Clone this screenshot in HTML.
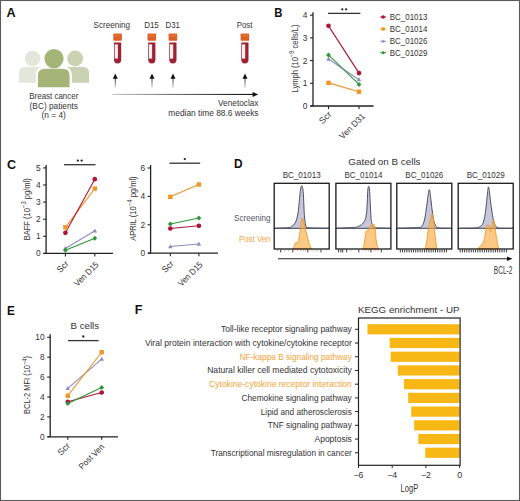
<!DOCTYPE html>
<html><head><meta charset="utf-8"><style>
html,body{margin:0;padding:0;background:#fff;}
svg{display:block;font-family:"Liberation Sans", sans-serif;}
</style></head><body>
<svg width="520" height="501" viewBox="0 0 520 501">
<rect x="0" y="0" width="520" height="501" fill="#fff"/>

<text x="6.4" y="16.8" font-size="12.6" text-anchor="start" fill="#111" font-weight="bold" >A</text>
<circle cx="32.6" cy="58.5" r="7.8" fill="#e3e6da"/>
<path d="M19,82.8 V73 Q19,67 25,67 H40 Q46,67 46,73 V82.8 Z" fill="#e3e6da"/>
<circle cx="75.2" cy="58.5" r="7.9" fill="#c9d2b3"/>
<path d="M62,82.8 V73 Q62,67 68,67 H83 Q89,67 89,73 V82.8 Z" fill="#c9d2b3"/>
<circle cx="54" cy="58.6" r="11.6" fill="#fff"/>
<path d="M35.8,89 V75.5 Q35.8,66.6 44.6,66.6 H63 Q71.8,66.6 71.8,75.5 V89 Z" fill="#fff"/>
<circle cx="54" cy="58.6" r="9.6" fill="#a5b577"/>
<path d="M37.9,87.2 V76 Q37.9,68.8 45,68.8 H62.5 Q69.6,68.8 69.6,76 V87.2 Z" fill="#a5b577"/>
<text x="53.8" y="98.8" font-size="8.2" text-anchor="middle" fill="#333333" font-weight="normal" textLength="49" lengthAdjust="spacingAndGlyphs" >Breast cancer</text>
<text x="53.8" y="108.6" font-size="8.2" text-anchor="middle" fill="#333333" font-weight="normal" textLength="48.4" lengthAdjust="spacingAndGlyphs" >(BC) patients</text>
<text x="53.7" y="118.4" font-size="8.2" text-anchor="middle" fill="#333333" font-weight="normal" textLength="24.3" lengthAdjust="spacingAndGlyphs" >(n = 4)</text>
<text x="93.5" y="28.3" font-size="8.2" text-anchor="start" fill="#333333" font-weight="normal" textLength="36.5" lengthAdjust="spacingAndGlyphs" >Screening</text>
<text x="144.2" y="28.3" font-size="8.2" text-anchor="start" fill="#333333" font-weight="normal" textLength="14.6" lengthAdjust="spacingAndGlyphs" >D15</text>
<text x="165.6" y="28.3" font-size="8.2" text-anchor="start" fill="#333333" font-weight="normal" textLength="14.4" lengthAdjust="spacingAndGlyphs" >D31</text>
<text x="236.7" y="28.3" font-size="8.2" text-anchor="start" fill="#333333" font-weight="normal" textLength="15.8" lengthAdjust="spacingAndGlyphs" >Post</text>
<rect x="113.3" y="33.5" width="8.6" height="7.3" rx="0.8" fill="#dd5f28"/>
<rect x="114.1" y="34.2" width="7" height="2.6" fill="#e97838" opacity="0.6"/>
<path d="M114.0,42.6 H121.19999999999999 V59.8 Q121.19999999999999,63.5 117.6,63.5 Q114.0,63.5 114.0,59.8 Z" fill="#9c2234"/>
<rect x="114.69999999999999" y="44.4" width="3.2" height="14.2" fill="#fbeef0"/>
<rect x="147.5" y="33.5" width="8.6" height="7.3" rx="0.8" fill="#dd5f28"/>
<rect x="148.3" y="34.2" width="7" height="2.6" fill="#e97838" opacity="0.6"/>
<path d="M148.20000000000002,42.6 H155.4 V59.8 Q155.4,63.5 151.8,63.5 Q148.20000000000002,63.5 148.20000000000002,59.8 Z" fill="#9c2234"/>
<rect x="148.9" y="44.4" width="3.2" height="14.2" fill="#fbeef0"/>
<rect x="168.6" y="33.5" width="8.6" height="7.3" rx="0.8" fill="#dd5f28"/>
<rect x="169.4" y="34.2" width="7" height="2.6" fill="#e97838" opacity="0.6"/>
<path d="M169.3,42.6 H176.5 V59.8 Q176.5,63.5 172.9,63.5 Q169.3,63.5 169.3,59.8 Z" fill="#9c2234"/>
<rect x="170.0" y="44.4" width="3.2" height="14.2" fill="#fbeef0"/>
<rect x="240.6" y="33.5" width="8.6" height="7.3" rx="0.8" fill="#dd5f28"/>
<rect x="241.4" y="34.2" width="7" height="2.6" fill="#e97838" opacity="0.6"/>
<path d="M241.3,42.6 H248.5 V59.8 Q248.5,63.5 244.9,63.5 Q241.3,63.5 241.3,59.8 Z" fill="#9c2234"/>
<rect x="242.0" y="44.4" width="3.2" height="14.2" fill="#fbeef0"/>
<defs><linearGradient id="gv" x1="0" x2="0" y1="0" y2="1"><stop offset="0" stop-color="#222"/><stop offset="1" stop-color="#bbb"/></linearGradient></defs>
<rect x="114.8" y="77.5" width="1" height="9.8" fill="url(#gv)"/>
<path d="M112.8,78.8 L115.3,73.4 L117.8,78.8 Z" fill="#111"/>
<rect x="151.5" y="77.5" width="1" height="9.8" fill="url(#gv)"/>
<path d="M149.5,78.8 L152,73.4 L154.5,78.8 Z" fill="#111"/>
<rect x="172.5" y="77.5" width="1" height="9.8" fill="url(#gv)"/>
<path d="M170.5,78.8 L173,73.4 L175.5,78.8 Z" fill="#111"/>
<rect x="244.5" y="77.5" width="1" height="9.8" fill="url(#gv)"/>
<path d="M242.5,78.8 L245,73.4 L247.5,78.8 Z" fill="#111"/>
<defs><linearGradient id="ga" x1="0" x2="1" y1="0" y2="0"><stop offset="0" stop-color="#c8c8c8"/><stop offset="0.5" stop-color="#666"/><stop offset="1" stop-color="#111"/></linearGradient></defs>
<rect x="112.2" y="93.9" width="142" height="1.1" fill="url(#ga)"/>
<path d="M252.6,91.9 L258.2,94.45 L252.6,97 Z" fill="#111"/>
<text x="258.5" y="106" font-size="8.3" text-anchor="end" fill="#333333" font-weight="normal" textLength="40.5" lengthAdjust="spacingAndGlyphs" >Venetoclax</text>
<text x="258.5" y="116" font-size="8.3" text-anchor="end" fill="#333333" font-weight="normal" textLength="90.2" lengthAdjust="spacingAndGlyphs" >median time 88.6 weeks</text>
<text x="274.3" y="16.8" font-size="12.6" text-anchor="start" fill="#111" font-weight="bold" textLength="8.2" lengthAdjust="spacingAndGlyphs" >B</text>
<line x1="313" y1="12.200000000000003" x2="313" y2="106" stroke="#222" stroke-width="1.3"/>
<line x1="310.5" y1="106" x2="373.6" y2="106" stroke="#222" stroke-width="1.3"/>
<line x1="310" y1="106.00" x2="313" y2="106.00" stroke="#222" stroke-width="1.1"/>
<text x="307.5" y="109.0" font-size="8.4" text-anchor="end" fill="#333333" font-weight="normal" >0</text>
<line x1="310" y1="83.30" x2="313" y2="83.30" stroke="#222" stroke-width="1.1"/>
<text x="307.5" y="86.3" font-size="8.4" text-anchor="end" fill="#333333" font-weight="normal" >1</text>
<line x1="310" y1="60.60" x2="313" y2="60.60" stroke="#222" stroke-width="1.1"/>
<text x="307.5" y="63.6" font-size="8.4" text-anchor="end" fill="#333333" font-weight="normal" >2</text>
<line x1="310" y1="37.90" x2="313" y2="37.90" stroke="#222" stroke-width="1.1"/>
<text x="307.5" y="40.900000000000006" font-size="8.4" text-anchor="end" fill="#333333" font-weight="normal" >3</text>
<line x1="310" y1="15.20" x2="313" y2="15.20" stroke="#222" stroke-width="1.1"/>
<text x="307.5" y="18.200000000000003" font-size="8.4" text-anchor="end" fill="#333333" font-weight="normal" >4</text>
<line x1="328.5" y1="106" x2="328.5" y2="109" stroke="#222" stroke-width="1.1"/>
<line x1="359" y1="106" x2="359" y2="109" stroke="#222" stroke-width="1.1"/>
<line x1="328.5" y1="82.85" x2="359" y2="91.70" stroke="#f09526" stroke-width="1.1"/>
<line x1="328.5" y1="59.01" x2="359" y2="79.67" stroke="#8d8bbf" stroke-width="1.1"/>
<line x1="328.5" y1="54.93" x2="359" y2="84.44" stroke="#2f973a" stroke-width="1.1"/>
<line x1="328.5" y1="25.87" x2="359" y2="73.09" stroke="#ad1539" stroke-width="1.1"/>
<rect x="326.30" y="80.65" width="4.40" height="4.40" fill="#f09526"/>
<rect x="356.80" y="89.50" width="4.40" height="4.40" fill="#f09526"/>
<path d="M328.50,56.61 L330.78,60.69 L326.22,60.69 Z" fill="#8d8bbf"/>
<path d="M359.00,77.27 L361.28,81.35 L356.72,81.35 Z" fill="#8d8bbf"/>
<path d="M328.50,52.43 L330.88,54.93 L328.50,57.43 L326.12,54.93 Z" fill="#2f973a"/>
<path d="M359.00,81.94 L361.38,84.44 L359.00,86.94 L356.62,84.44 Z" fill="#2f973a"/>
<circle cx="328.5" cy="25.869000000000014" r="2.35" fill="#ad1539"/>
<circle cx="359" cy="73.08500000000001" r="2.35" fill="#ad1539"/>
<line x1="328" y1="13.4" x2="360.4" y2="13.4" stroke="#333" stroke-width="1.3"/>
<circle cx="342.30" cy="9.30" r="1.15" fill="#222"/>
<circle cx="346.10" cy="9.30" r="1.15" fill="#222"/>
<g transform="translate(298,58.5) rotate(-90)">
<text x="0" y="0" font-size="9" text-anchor="middle" fill="#333333" textLength="68" lengthAdjust="spacingAndGlyphs">Lymph (10<tspan dy="-3.6" font-size="6.8">−9</tspan><tspan dy="3.6"> cells/L)</tspan></text>
</g>
<g transform="translate(332,115) rotate(-45)">
<text x="0" y="0" font-size="8.8" text-anchor="end" fill="#333333" font-weight="normal" textLength="13.5" lengthAdjust="spacingAndGlyphs" >Scr</text>
</g>
<g transform="translate(365.5,117) rotate(-45)">
<text x="0" y="0" font-size="8.8" text-anchor="end" fill="#333333" font-weight="normal" textLength="32" lengthAdjust="spacingAndGlyphs" >Ven D31</text>
</g>
<line x1="380.3" y1="17" x2="386" y2="17" stroke="#ad1539" stroke-width="1"/>
<circle cx="383.1" cy="17" r="1.76" fill="#ad1539"/>
<text x="389.8" y="20.2" font-size="8.8" text-anchor="start" fill="#333333" font-weight="normal" textLength="37.5" lengthAdjust="spacingAndGlyphs" >BC_01013</text>
<line x1="380.3" y1="29" x2="386" y2="29" stroke="#f09526" stroke-width="1"/>
<rect x="381.45" y="27.35" width="3.30" height="3.30" fill="#f09526"/>
<text x="389.8" y="32.2" font-size="8.8" text-anchor="start" fill="#333333" font-weight="normal" textLength="37.5" lengthAdjust="spacingAndGlyphs" >BC_01014</text>
<line x1="380.3" y1="41.2" x2="386" y2="41.2" stroke="#8d8bbf" stroke-width="1"/>
<path d="M383.10,39.40 L384.81,42.46 L381.39,42.46 Z" fill="#8d8bbf"/>
<text x="389.8" y="44.400000000000006" font-size="8.8" text-anchor="start" fill="#333333" font-weight="normal" textLength="37.5" lengthAdjust="spacingAndGlyphs" >BC_01026</text>
<line x1="380.3" y1="52.7" x2="386" y2="52.7" stroke="#2f973a" stroke-width="1"/>
<path d="M383.10,50.83 L384.88,52.70 L383.10,54.58 L381.32,52.70 Z" fill="#2f973a"/>
<text x="389.8" y="55.900000000000006" font-size="8.8" text-anchor="start" fill="#333333" font-weight="normal" textLength="37.5" lengthAdjust="spacingAndGlyphs" >BC_01029</text>
<text x="7.0" y="168.7" font-size="12.6" text-anchor="start" fill="#111" font-weight="bold" >C</text>
<line x1="46.1" y1="164.9" x2="46.1" y2="253.4" stroke="#222" stroke-width="1.3"/>
<line x1="43.5" y1="253.4" x2="113" y2="253.4" stroke="#222" stroke-width="1.3"/>
<line x1="43.1" y1="253.40" x2="46.1" y2="253.40" stroke="#222" stroke-width="1.1"/>
<text x="40.6" y="256.4" font-size="8.4" text-anchor="end" fill="#333333" font-weight="normal" >0</text>
<line x1="43.1" y1="236.30" x2="46.1" y2="236.30" stroke="#222" stroke-width="1.1"/>
<text x="40.6" y="239.3" font-size="8.4" text-anchor="end" fill="#333333" font-weight="normal" >1</text>
<line x1="43.1" y1="219.20" x2="46.1" y2="219.20" stroke="#222" stroke-width="1.1"/>
<text x="40.6" y="222.2" font-size="8.4" text-anchor="end" fill="#333333" font-weight="normal" >2</text>
<line x1="43.1" y1="202.10" x2="46.1" y2="202.10" stroke="#222" stroke-width="1.1"/>
<text x="40.6" y="205.1" font-size="8.4" text-anchor="end" fill="#333333" font-weight="normal" >3</text>
<line x1="43.1" y1="185.00" x2="46.1" y2="185.00" stroke="#222" stroke-width="1.1"/>
<text x="40.6" y="188.0" font-size="8.4" text-anchor="end" fill="#333333" font-weight="normal" >4</text>
<line x1="43.1" y1="167.90" x2="46.1" y2="167.90" stroke="#222" stroke-width="1.1"/>
<text x="40.6" y="170.9" font-size="8.4" text-anchor="end" fill="#333333" font-weight="normal" >5</text>
<line x1="65.4" y1="253.4" x2="65.4" y2="256.4" stroke="#222" stroke-width="1.1"/>
<line x1="94.8" y1="253.4" x2="94.8" y2="256.4" stroke="#222" stroke-width="1.1"/>
<line x1="65.4" y1="227.31" x2="94.8" y2="188.61" stroke="#f09526" stroke-width="1.1"/>
<line x1="65.4" y1="232.79" x2="94.8" y2="179.20" stroke="#ad1539" stroke-width="1.1"/>
<line x1="65.4" y1="248.41" x2="94.8" y2="230.79" stroke="#8d8bbf" stroke-width="1.1"/>
<line x1="65.4" y1="250.30" x2="94.8" y2="238.30" stroke="#2f973a" stroke-width="1.1"/>
<rect x="63.20" y="225.11" width="4.40" height="4.40" fill="#f09526"/>
<rect x="92.60" y="186.41" width="4.40" height="4.40" fill="#f09526"/>
<circle cx="65.4" cy="232.7945" r="2.35" fill="#ad1539"/>
<circle cx="94.8" cy="179.2031" r="2.35" fill="#ad1539"/>
<path d="M65.40,246.01 L67.68,250.09 L63.12,250.09 Z" fill="#8d8bbf"/>
<path d="M94.80,228.39 L97.08,232.47 L92.52,232.47 Z" fill="#8d8bbf"/>
<path d="M65.40,247.80 L67.78,250.30 L65.40,252.80 L63.03,250.30 Z" fill="#2f973a"/>
<path d="M94.80,235.80 L97.17,238.30 L94.80,240.80 L92.42,238.30 Z" fill="#2f973a"/>
<line x1="64" y1="164.7" x2="95.5" y2="164.7" stroke="#333" stroke-width="1.3"/>
<circle cx="77.85" cy="160.60" r="1.15" fill="#222"/>
<circle cx="81.65" cy="160.60" r="1.15" fill="#222"/>
<g transform="translate(30,209.3) rotate(-90)">
<text x="0" y="0" font-size="8.6" text-anchor="middle" fill="#333333" textLength="62" lengthAdjust="spacingAndGlyphs">BAFF (10<tspan dy="-3.6" font-size="6.8">−3</tspan><tspan dy="3.6"> pg/ml)</tspan></text>
</g>
<g transform="translate(69.3,264.2) rotate(-45)">
<text x="0" y="0" font-size="8.8" text-anchor="end" fill="#333333" font-weight="normal" textLength="12.8" lengthAdjust="spacingAndGlyphs" >Scr</text>
</g>
<g transform="translate(99.3,265.2) rotate(-45)">
<text x="0" y="0" font-size="8.8" text-anchor="end" fill="#333333" font-weight="normal" textLength="31" lengthAdjust="spacingAndGlyphs" >Ven D15</text>
</g>
<line x1="150.6" y1="165.0" x2="150.6" y2="253.2" stroke="#222" stroke-width="1.3"/>
<line x1="148" y1="253.2" x2="218" y2="253.2" stroke="#222" stroke-width="1.3"/>
<line x1="147.6" y1="253.20" x2="150.6" y2="253.20" stroke="#222" stroke-width="1.1"/>
<text x="145.1" y="256.2" font-size="8.4" text-anchor="end" fill="#333333" font-weight="normal" >0</text>
<line x1="147.6" y1="224.80" x2="150.6" y2="224.80" stroke="#222" stroke-width="1.1"/>
<text x="145.1" y="227.79999999999998" font-size="8.4" text-anchor="end" fill="#333333" font-weight="normal" >2</text>
<line x1="147.6" y1="196.40" x2="150.6" y2="196.40" stroke="#222" stroke-width="1.1"/>
<text x="145.1" y="199.39999999999998" font-size="8.4" text-anchor="end" fill="#333333" font-weight="normal" >4</text>
<line x1="147.6" y1="168.00" x2="150.6" y2="168.00" stroke="#222" stroke-width="1.1"/>
<text x="145.1" y="171.0" font-size="8.4" text-anchor="end" fill="#333333" font-weight="normal" >6</text>
<line x1="170.3" y1="253.2" x2="170.3" y2="256.2" stroke="#222" stroke-width="1.1"/>
<line x1="198.9" y1="253.2" x2="198.9" y2="256.2" stroke="#222" stroke-width="1.1"/>
<line x1="170.3" y1="196.83" x2="198.9" y2="184.47" stroke="#f09526" stroke-width="1.1"/>
<line x1="170.3" y1="223.95" x2="198.9" y2="217.98" stroke="#2f973a" stroke-width="1.1"/>
<line x1="170.3" y1="228.49" x2="198.9" y2="225.79" stroke="#ad1539" stroke-width="1.1"/>
<line x1="170.3" y1="246.53" x2="198.9" y2="243.97" stroke="#8d8bbf" stroke-width="1.1"/>
<rect x="168.10" y="194.63" width="4.40" height="4.40" fill="#f09526"/>
<rect x="196.70" y="182.27" width="4.40" height="4.40" fill="#f09526"/>
<path d="M170.30,221.45 L172.68,223.95 L170.30,226.45 L167.93,223.95 Z" fill="#2f973a"/>
<path d="M198.90,215.48 L201.28,217.98 L198.90,220.48 L196.53,217.98 Z" fill="#2f973a"/>
<circle cx="170.3" cy="228.492" r="2.35" fill="#ad1539"/>
<circle cx="198.9" cy="225.79399999999998" r="2.35" fill="#ad1539"/>
<path d="M170.30,244.13 L172.58,248.21 L168.02,248.21 Z" fill="#8d8bbf"/>
<path d="M198.90,241.57 L201.18,245.65 L196.62,245.65 Z" fill="#8d8bbf"/>
<line x1="169.4" y1="163.2" x2="200.2" y2="163.2" stroke="#333" stroke-width="1.3"/>
<circle cx="184.80" cy="159.10" r="1.15" fill="#222"/>
<g transform="translate(135.7,208.6) rotate(-90)">
<text x="0" y="0" font-size="8.6" text-anchor="middle" fill="#333333" textLength="64.5" lengthAdjust="spacingAndGlyphs">APRIL (10<tspan dy="-3.6" font-size="6.8">−4</tspan><tspan dy="3.6"> pg/ml)</tspan></text>
</g>
<g transform="translate(174.3,264.2) rotate(-45)">
<text x="0" y="0" font-size="8.8" text-anchor="end" fill="#333333" font-weight="normal" textLength="12.8" lengthAdjust="spacingAndGlyphs" >Scr</text>
</g>
<g transform="translate(203.3,265.2) rotate(-45)">
<text x="0" y="0" font-size="8.8" text-anchor="end" fill="#333333" font-weight="normal" textLength="31" lengthAdjust="spacingAndGlyphs" >Ven D15</text>
</g>
<text x="234.0" y="167.6" font-size="12.6" text-anchor="start" fill="#111" font-weight="bold" textLength="8.6" lengthAdjust="spacingAndGlyphs" >D</text>
<text x="348.3" y="165" font-size="9.3" text-anchor="start" fill="#333333" font-weight="normal" textLength="72.2" lengthAdjust="spacingAndGlyphs" >Gated on B cells</text>
<text x="301.7" y="177.5" font-size="8.3" text-anchor="middle" fill="#333333" font-weight="normal" textLength="38" lengthAdjust="spacingAndGlyphs" >BC_01013</text>
<text x="363.4" y="177.5" font-size="8.3" text-anchor="middle" fill="#333333" font-weight="normal" textLength="38" lengthAdjust="spacingAndGlyphs" >BC_01014</text>
<text x="424.3" y="177.5" font-size="8.3" text-anchor="middle" fill="#333333" font-weight="normal" textLength="38" lengthAdjust="spacingAndGlyphs" >BC_01026</text>
<text x="485.7" y="177.5" font-size="8.3" text-anchor="middle" fill="#333333" font-weight="normal" textLength="38" lengthAdjust="spacingAndGlyphs" >BC_01029</text>
<text x="270.5" y="220.5" font-size="8.6" text-anchor="end" fill="#50545f" font-weight="normal" textLength="36.5" lengthAdjust="spacingAndGlyphs" >Screening</text>
<text x="270.5" y="241.8" font-size="8.6" text-anchor="end" fill="#f4a545" font-weight="normal" textLength="31.5" lengthAdjust="spacingAndGlyphs" >Post Ven</text>
<defs><clipPath id="cb"><rect x="0" y="228.9" width="520" height="30"/></clipPath><clipPath id="ct"><rect x="0" y="150" width="520" height="78.9"/></clipPath></defs>
<line x1="274.2" y1="228.3" x2="329.2" y2="228.3" stroke="#666b78" stroke-width="0.95"/>
<path d="M274.20,228.30 C276.47,228.20 284.88,227.98 287.80,227.70 C290.72,227.42 290.50,227.35 291.70,226.60 C292.90,225.85 294.13,224.57 295.00,223.20 C295.87,221.83 296.33,220.47 296.90,218.40 C297.47,216.33 298.00,213.67 298.40,210.80 C298.80,207.93 298.98,204.40 299.30,201.20 C299.62,198.00 300.02,193.93 300.30,191.60 C300.58,189.27 300.77,188.20 301.00,187.20 C301.23,186.20 301.47,185.60 301.70,185.60 C301.93,185.60 302.15,186.20 302.40,187.20 C302.65,188.20 302.98,189.27 303.20,191.60 C303.42,193.93 303.55,198.00 303.70,201.20 C303.85,204.40 303.90,207.60 304.10,210.80 C304.30,214.00 304.58,217.85 304.90,220.40 C305.22,222.95 305.48,224.87 306.00,226.10 C306.52,227.33 304.13,227.43 308.00,227.80 C311.87,228.17 325.67,228.22 329.20,228.30 Z" fill="#c6c7db" stroke="#4a5164" stroke-width="1" stroke-linejoin="round"/>
<path d="M292.80,249.00 C293.07,248.42 293.93,246.55 294.40,245.50 C294.87,244.45 295.00,243.23 295.60,242.70 C296.20,242.17 297.47,242.90 298.00,242.30 C298.53,241.70 298.47,240.95 298.80,239.10 C299.13,237.25 299.60,233.85 300.00,231.20 C300.40,228.55 300.80,225.40 301.20,223.20 C301.60,221.00 302.00,218.40 302.40,218.00 C302.80,217.60 303.13,219.13 303.60,220.80 C304.07,222.47 304.60,225.47 305.20,228.00 C305.80,230.53 306.55,233.48 307.20,236.00 C307.85,238.52 308.45,241.12 309.10,243.10 C309.75,245.08 310.70,246.92 311.10,247.90 C311.50,248.88 311.43,248.82 311.50,249.00 Z" fill="#fbc886" clip-path="url(#cb)"/>
<path d="M292.80,249.00 C293.07,248.42 293.93,246.55 294.40,245.50 C294.87,244.45 295.00,243.23 295.60,242.70 C296.20,242.17 297.47,242.90 298.00,242.30 C298.53,241.70 298.47,240.95 298.80,239.10 C299.13,237.25 299.60,233.85 300.00,231.20 C300.40,228.55 300.80,225.40 301.20,223.20 C301.60,221.00 302.00,218.40 302.40,218.00 C302.80,217.60 303.13,219.13 303.60,220.80 C304.07,222.47 304.60,225.47 305.20,228.00 C305.80,230.53 306.55,233.48 307.20,236.00 C307.85,238.52 308.45,241.12 309.10,243.10 C309.75,245.08 310.70,246.92 311.10,247.90 C311.50,248.88 311.43,248.82 311.50,249.00 Z" fill="#f6a640" fill-opacity="0.6" clip-path="url(#ct)"/>
<path d="M292.80,249.00 C293.07,248.42 293.93,246.55 294.40,245.50 C294.87,244.45 295.00,243.23 295.60,242.70 C296.20,242.17 297.47,242.90 298.00,242.30 C298.53,241.70 298.47,240.95 298.80,239.10 C299.13,237.25 299.60,233.85 300.00,231.20 C300.40,228.55 300.80,225.40 301.20,223.20 C301.60,221.00 302.00,218.40 302.40,218.00 C302.80,217.60 303.13,219.13 303.60,220.80 C304.07,222.47 304.60,225.47 305.20,228.00 C305.80,230.53 306.55,233.48 307.20,236.00 C307.85,238.52 308.45,241.12 309.10,243.10 C309.75,245.08 310.70,246.92 311.10,247.90 C311.50,248.88 311.43,248.82 311.50,249.00 Z" fill="none" stroke="#f19b25" stroke-width="0.9" stroke-linejoin="round"/>
<rect x="274.2" y="183.3" width="55" height="65.7" fill="none" stroke="#1a1a1a" stroke-width="1.3"/>
<line x1="280.7" y1="249.6" x2="280.7" y2="252.4" stroke="#222" stroke-width="0.9"/>
<line x1="292.8" y1="249.6" x2="292.8" y2="252.4" stroke="#222" stroke-width="0.9"/>
<line x1="307.8" y1="249.6" x2="307.8" y2="252.4" stroke="#222" stroke-width="0.9"/>
<line x1="321.0" y1="249.6" x2="321.0" y2="252.4" stroke="#222" stroke-width="0.9"/>
<line x1="277.7" y1="249.6" x2="277.7" y2="251.4" stroke="#888" stroke-width="0.6"/>
<line x1="284.7" y1="249.6" x2="284.7" y2="251.4" stroke="#888" stroke-width="0.6"/>
<line x1="288.7" y1="249.6" x2="288.7" y2="251.4" stroke="#888" stroke-width="0.6"/>
<line x1="297.7" y1="249.6" x2="297.7" y2="251.4" stroke="#888" stroke-width="0.6"/>
<line x1="301.2" y1="249.6" x2="301.2" y2="251.4" stroke="#888" stroke-width="0.6"/>
<line x1="303.7" y1="249.6" x2="303.7" y2="251.4" stroke="#888" stroke-width="0.6"/>
<line x1="305.7" y1="249.6" x2="305.7" y2="251.4" stroke="#888" stroke-width="0.6"/>
<line x1="312.2" y1="249.6" x2="312.2" y2="251.4" stroke="#888" stroke-width="0.6"/>
<line x1="315.2" y1="249.6" x2="315.2" y2="251.4" stroke="#888" stroke-width="0.6"/>
<line x1="317.7" y1="249.6" x2="317.7" y2="251.4" stroke="#888" stroke-width="0.6"/>
<line x1="335.9" y1="228.3" x2="390.9" y2="228.3" stroke="#666b78" stroke-width="0.95"/>
<path d="M335.90,228.30 C338.73,228.17 349.27,227.78 352.90,227.50 C356.53,227.22 356.27,227.07 357.70,226.60 C359.13,226.13 360.38,225.58 361.50,224.70 C362.62,223.82 363.68,222.50 364.40,221.30 C365.12,220.10 365.40,219.25 365.80,217.50 C366.20,215.75 366.55,213.52 366.80,210.80 C367.05,208.08 367.15,204.40 367.30,201.20 C367.45,198.00 367.57,193.87 367.70,191.60 C367.83,189.33 367.93,188.48 368.10,187.60 C368.27,186.72 368.50,186.30 368.70,186.30 C368.90,186.30 369.13,186.72 369.30,187.60 C369.47,188.48 369.57,189.33 369.70,191.60 C369.83,193.87 369.95,198.00 370.10,201.20 C370.25,204.40 370.40,207.60 370.60,210.80 C370.80,214.00 371.03,218.17 371.30,220.40 C371.57,222.63 371.83,223.08 372.20,224.20 C372.57,225.32 373.05,226.50 373.50,227.10 C373.95,227.70 372.00,227.60 374.90,227.80 C377.80,228.00 388.23,228.22 390.90,228.30 Z" fill="#c6c7db" stroke="#4a5164" stroke-width="1" stroke-linejoin="round"/>
<path d="M362.60,249.00 C362.80,248.42 363.40,247.28 363.80,245.50 C364.20,243.72 364.67,240.43 365.00,238.30 C365.33,236.17 365.53,233.95 365.80,232.70 C366.07,231.45 366.07,231.18 366.60,230.80 C367.13,230.42 368.47,230.93 369.00,230.40 C369.53,229.87 369.47,228.47 369.80,227.60 C370.13,226.73 370.60,225.80 371.00,225.20 C371.40,224.60 371.80,224.00 372.20,224.00 C372.60,224.00 373.07,225.13 373.40,225.20 C373.73,225.27 373.93,223.93 374.20,224.40 C374.47,224.87 374.77,226.62 375.00,228.00 C375.23,229.38 375.42,230.72 375.60,232.70 C375.78,234.68 375.82,237.77 376.10,239.90 C376.38,242.03 376.90,243.98 377.30,245.50 C377.70,247.02 378.30,248.42 378.50,249.00 Z" fill="#fbc886" clip-path="url(#cb)"/>
<path d="M362.60,249.00 C362.80,248.42 363.40,247.28 363.80,245.50 C364.20,243.72 364.67,240.43 365.00,238.30 C365.33,236.17 365.53,233.95 365.80,232.70 C366.07,231.45 366.07,231.18 366.60,230.80 C367.13,230.42 368.47,230.93 369.00,230.40 C369.53,229.87 369.47,228.47 369.80,227.60 C370.13,226.73 370.60,225.80 371.00,225.20 C371.40,224.60 371.80,224.00 372.20,224.00 C372.60,224.00 373.07,225.13 373.40,225.20 C373.73,225.27 373.93,223.93 374.20,224.40 C374.47,224.87 374.77,226.62 375.00,228.00 C375.23,229.38 375.42,230.72 375.60,232.70 C375.78,234.68 375.82,237.77 376.10,239.90 C376.38,242.03 376.90,243.98 377.30,245.50 C377.70,247.02 378.30,248.42 378.50,249.00 Z" fill="#f6a640" fill-opacity="0.6" clip-path="url(#ct)"/>
<path d="M362.60,249.00 C362.80,248.42 363.40,247.28 363.80,245.50 C364.20,243.72 364.67,240.43 365.00,238.30 C365.33,236.17 365.53,233.95 365.80,232.70 C366.07,231.45 366.07,231.18 366.60,230.80 C367.13,230.42 368.47,230.93 369.00,230.40 C369.53,229.87 369.47,228.47 369.80,227.60 C370.13,226.73 370.60,225.80 371.00,225.20 C371.40,224.60 371.80,224.00 372.20,224.00 C372.60,224.00 373.07,225.13 373.40,225.20 C373.73,225.27 373.93,223.93 374.20,224.40 C374.47,224.87 374.77,226.62 375.00,228.00 C375.23,229.38 375.42,230.72 375.60,232.70 C375.78,234.68 375.82,237.77 376.10,239.90 C376.38,242.03 376.90,243.98 377.30,245.50 C377.70,247.02 378.30,248.42 378.50,249.00 Z" fill="none" stroke="#f19b25" stroke-width="0.9" stroke-linejoin="round"/>
<rect x="335.9" y="183.3" width="55" height="65.7" fill="none" stroke="#1a1a1a" stroke-width="1.3"/>
<line x1="338.59999999999997" y1="249.6" x2="338.59999999999997" y2="252.4" stroke="#222" stroke-width="0.9"/>
<line x1="340.9" y1="249.6" x2="340.9" y2="252.4" stroke="#222" stroke-width="0.9"/>
<line x1="342.7" y1="249.6" x2="342.7" y2="252.4" stroke="#222" stroke-width="0.9"/>
<line x1="346.7" y1="249.6" x2="346.7" y2="252.4" stroke="#222" stroke-width="0.9"/>
<line x1="358.79999999999995" y1="249.6" x2="358.79999999999995" y2="252.4" stroke="#222" stroke-width="0.9"/>
<line x1="370.9" y1="249.6" x2="370.9" y2="252.4" stroke="#222" stroke-width="0.9"/>
<line x1="381.29999999999995" y1="249.6" x2="381.29999999999995" y2="252.4" stroke="#222" stroke-width="0.9"/>
<line x1="350.9" y1="249.6" x2="350.9" y2="251.4" stroke="#888" stroke-width="0.6"/>
<line x1="362.9" y1="249.6" x2="362.9" y2="251.4" stroke="#888" stroke-width="0.6"/>
<line x1="365.9" y1="249.6" x2="365.9" y2="251.4" stroke="#888" stroke-width="0.6"/>
<line x1="368.4" y1="249.6" x2="368.4" y2="251.4" stroke="#888" stroke-width="0.6"/>
<line x1="374.9" y1="249.6" x2="374.9" y2="251.4" stroke="#888" stroke-width="0.6"/>
<line x1="377.9" y1="249.6" x2="377.9" y2="251.4" stroke="#888" stroke-width="0.6"/>
<line x1="396.8" y1="228.3" x2="451.8" y2="228.3" stroke="#666b78" stroke-width="0.95"/>
<path d="M396.80,228.30 C400.40,228.17 414.22,227.87 418.40,227.50 C422.58,227.13 421.02,226.92 421.90,226.10 C422.78,225.28 423.17,224.12 423.70,222.60 C424.23,221.08 424.70,219.10 425.10,217.00 C425.50,214.90 425.77,212.33 426.10,210.00 C426.43,207.67 426.75,205.57 427.10,203.00 C427.45,200.43 427.92,196.60 428.20,194.60 C428.48,192.60 428.62,191.82 428.80,191.00 C428.98,190.18 429.13,189.70 429.30,189.70 C429.47,189.70 429.63,190.18 429.80,191.00 C429.97,191.82 430.05,192.60 430.30,194.60 C430.55,196.60 431.00,200.43 431.30,203.00 C431.60,205.57 431.80,207.67 432.10,210.00 C432.40,212.33 432.70,214.78 433.10,217.00 C433.50,219.22 433.92,221.67 434.50,223.30 C435.08,224.93 435.78,226.02 436.60,226.80 C437.42,227.58 436.87,227.75 439.40,228.00 C441.93,228.25 449.73,228.25 451.80,228.30 Z" fill="#c6c7db" stroke="#4a5164" stroke-width="1" stroke-linejoin="round"/>
<path d="M425.20,249.00 C425.47,247.63 426.30,244.03 426.80,240.80 C427.30,237.57 427.73,232.63 428.20,229.60 C428.67,226.57 429.13,224.70 429.60,222.60 C430.07,220.50 430.58,218.52 431.00,217.00 C431.42,215.48 431.75,213.50 432.10,213.50 C432.45,213.50 432.77,215.25 433.10,217.00 C433.43,218.75 433.80,221.20 434.10,224.00 C434.40,226.80 434.60,230.77 434.90,233.80 C435.20,236.83 435.55,239.67 435.90,242.20 C436.25,244.73 436.82,247.87 437.00,249.00 Z" fill="#fbc886" clip-path="url(#cb)"/>
<path d="M425.20,249.00 C425.47,247.63 426.30,244.03 426.80,240.80 C427.30,237.57 427.73,232.63 428.20,229.60 C428.67,226.57 429.13,224.70 429.60,222.60 C430.07,220.50 430.58,218.52 431.00,217.00 C431.42,215.48 431.75,213.50 432.10,213.50 C432.45,213.50 432.77,215.25 433.10,217.00 C433.43,218.75 433.80,221.20 434.10,224.00 C434.40,226.80 434.60,230.77 434.90,233.80 C435.20,236.83 435.55,239.67 435.90,242.20 C436.25,244.73 436.82,247.87 437.00,249.00 Z" fill="#f6a640" fill-opacity="0.6" clip-path="url(#ct)"/>
<path d="M425.20,249.00 C425.47,247.63 426.30,244.03 426.80,240.80 C427.30,237.57 427.73,232.63 428.20,229.60 C428.67,226.57 429.13,224.70 429.60,222.60 C430.07,220.50 430.58,218.52 431.00,217.00 C431.42,215.48 431.75,213.50 432.10,213.50 C432.45,213.50 432.77,215.25 433.10,217.00 C433.43,218.75 433.80,221.20 434.10,224.00 C434.40,226.80 434.60,230.77 434.90,233.80 C435.20,236.83 435.55,239.67 435.90,242.20 C436.25,244.73 436.82,247.87 437.00,249.00 Z" fill="none" stroke="#f19b25" stroke-width="0.9" stroke-linejoin="round"/>
<rect x="396.8" y="183.3" width="55" height="65.7" fill="none" stroke="#1a1a1a" stroke-width="1.3"/>
<line x1="400.3" y1="249.6" x2="400.3" y2="252.4" stroke="#222" stroke-width="0.9"/>
<line x1="402.5" y1="249.6" x2="402.5" y2="252.4" stroke="#222" stroke-width="0.9"/>
<line x1="404.7" y1="249.6" x2="404.7" y2="252.4" stroke="#222" stroke-width="0.9"/>
<line x1="406.90000000000003" y1="249.6" x2="406.90000000000003" y2="252.4" stroke="#222" stroke-width="0.9"/>
<line x1="409.1" y1="249.6" x2="409.1" y2="252.4" stroke="#222" stroke-width="0.9"/>
<line x1="411.3" y1="249.6" x2="411.3" y2="252.4" stroke="#222" stroke-width="0.9"/>
<line x1="413.5" y1="249.6" x2="413.5" y2="252.4" stroke="#222" stroke-width="0.9"/>
<line x1="415.7" y1="249.6" x2="415.7" y2="252.4" stroke="#222" stroke-width="0.9"/>
<line x1="417.90000000000003" y1="249.6" x2="417.90000000000003" y2="252.4" stroke="#222" stroke-width="0.9"/>
<line x1="420.1" y1="249.6" x2="420.1" y2="252.4" stroke="#222" stroke-width="0.9"/>
<line x1="422.3" y1="249.6" x2="422.3" y2="252.4" stroke="#222" stroke-width="0.9"/>
<line x1="424.5" y1="249.6" x2="424.5" y2="252.4" stroke="#222" stroke-width="0.9"/>
<line x1="426.7" y1="249.6" x2="426.7" y2="252.4" stroke="#222" stroke-width="0.9"/>
<line x1="428.90000000000003" y1="249.6" x2="428.90000000000003" y2="252.4" stroke="#222" stroke-width="0.9"/>
<line x1="431.1" y1="249.6" x2="431.1" y2="252.4" stroke="#222" stroke-width="0.9"/>
<line x1="433.3" y1="249.6" x2="433.3" y2="252.4" stroke="#222" stroke-width="0.9"/>
<line x1="435.5" y1="249.6" x2="435.5" y2="252.4" stroke="#222" stroke-width="0.9"/>
<line x1="437.7" y1="249.6" x2="437.7" y2="252.4" stroke="#222" stroke-width="0.9"/>
<line x1="439.90000000000003" y1="249.6" x2="439.90000000000003" y2="252.4" stroke="#222" stroke-width="0.9"/>
<line x1="442.1" y1="249.6" x2="442.1" y2="252.4" stroke="#222" stroke-width="0.9"/>
<line x1="444.3" y1="249.6" x2="444.3" y2="252.4" stroke="#222" stroke-width="0.9"/>
<line x1="446.5" y1="249.6" x2="446.5" y2="252.4" stroke="#222" stroke-width="0.9"/>
<line x1="458.2" y1="228.3" x2="513.2" y2="228.3" stroke="#666b78" stroke-width="0.95"/>
<path d="M458.20,228.30 C460.87,228.25 470.72,228.20 474.20,228.00 C477.68,227.80 477.75,227.65 479.10,227.10 C480.45,226.55 481.48,225.92 482.30,224.70 C483.12,223.48 483.48,221.78 484.00,219.80 C484.52,217.82 484.98,215.60 485.40,212.80 C485.82,210.00 486.15,206.27 486.50,203.00 C486.85,199.73 487.25,195.60 487.50,193.20 C487.75,190.80 487.83,189.65 488.00,188.60 C488.17,187.55 488.33,186.90 488.50,186.90 C488.67,186.90 488.82,187.55 489.00,188.60 C489.18,189.65 489.32,190.80 489.60,193.20 C489.88,195.60 490.35,200.20 490.70,203.00 C491.05,205.80 491.30,207.43 491.70,210.00 C492.10,212.57 492.57,215.95 493.10,218.40 C493.63,220.85 494.20,223.18 494.90,224.70 C495.60,226.22 496.32,226.92 497.30,227.50 C498.28,228.08 498.15,228.07 500.80,228.20 C503.45,228.33 511.13,228.28 513.20,228.30 Z" fill="#c6c7db" stroke="#4a5164" stroke-width="1" stroke-linejoin="round"/>
<path d="M477.70,249.00 C478.17,248.45 479.57,246.83 480.50,245.70 C481.43,244.57 482.53,243.95 483.30,242.20 C484.07,240.45 484.57,237.77 485.10,235.20 C485.63,232.63 486.03,228.55 486.50,226.80 C486.97,225.05 487.38,224.70 487.90,224.70 C488.42,224.70 489.13,225.63 489.60,226.80 C490.07,227.97 490.28,231.93 490.70,231.70 C491.12,231.47 491.68,227.38 492.10,225.40 C492.52,223.42 492.80,220.03 493.20,219.80 C493.60,219.57 494.05,221.67 494.50,224.00 C494.95,226.33 495.43,230.77 495.90,233.80 C496.37,236.83 496.83,239.67 497.30,242.20 C497.77,244.73 498.47,247.87 498.70,249.00 Z" fill="#fbc886" clip-path="url(#cb)"/>
<path d="M477.70,249.00 C478.17,248.45 479.57,246.83 480.50,245.70 C481.43,244.57 482.53,243.95 483.30,242.20 C484.07,240.45 484.57,237.77 485.10,235.20 C485.63,232.63 486.03,228.55 486.50,226.80 C486.97,225.05 487.38,224.70 487.90,224.70 C488.42,224.70 489.13,225.63 489.60,226.80 C490.07,227.97 490.28,231.93 490.70,231.70 C491.12,231.47 491.68,227.38 492.10,225.40 C492.52,223.42 492.80,220.03 493.20,219.80 C493.60,219.57 494.05,221.67 494.50,224.00 C494.95,226.33 495.43,230.77 495.90,233.80 C496.37,236.83 496.83,239.67 497.30,242.20 C497.77,244.73 498.47,247.87 498.70,249.00 Z" fill="#f6a640" fill-opacity="0.6" clip-path="url(#ct)"/>
<path d="M477.70,249.00 C478.17,248.45 479.57,246.83 480.50,245.70 C481.43,244.57 482.53,243.95 483.30,242.20 C484.07,240.45 484.57,237.77 485.10,235.20 C485.63,232.63 486.03,228.55 486.50,226.80 C486.97,225.05 487.38,224.70 487.90,224.70 C488.42,224.70 489.13,225.63 489.60,226.80 C490.07,227.97 490.28,231.93 490.70,231.70 C491.12,231.47 491.68,227.38 492.10,225.40 C492.52,223.42 492.80,220.03 493.20,219.80 C493.60,219.57 494.05,221.67 494.50,224.00 C494.95,226.33 495.43,230.77 495.90,233.80 C496.37,236.83 496.83,239.67 497.30,242.20 C497.77,244.73 498.47,247.87 498.70,249.00 Z" fill="none" stroke="#f19b25" stroke-width="0.9" stroke-linejoin="round"/>
<rect x="458.2" y="183.3" width="55" height="65.7" fill="none" stroke="#1a1a1a" stroke-width="1.3"/>
<line x1="460.2" y1="249.6" x2="460.2" y2="252.4" stroke="#222" stroke-width="0.9"/>
<line x1="462.4" y1="249.6" x2="462.4" y2="252.4" stroke="#222" stroke-width="0.9"/>
<line x1="464.59999999999997" y1="249.6" x2="464.59999999999997" y2="252.4" stroke="#222" stroke-width="0.9"/>
<line x1="466.8" y1="249.6" x2="466.8" y2="252.4" stroke="#222" stroke-width="0.9"/>
<line x1="469.0" y1="249.6" x2="469.0" y2="252.4" stroke="#222" stroke-width="0.9"/>
<line x1="471.2" y1="249.6" x2="471.2" y2="252.4" stroke="#222" stroke-width="0.9"/>
<line x1="473.4" y1="249.6" x2="473.4" y2="252.4" stroke="#222" stroke-width="0.9"/>
<line x1="475.59999999999997" y1="249.6" x2="475.59999999999997" y2="252.4" stroke="#222" stroke-width="0.9"/>
<line x1="477.8" y1="249.6" x2="477.8" y2="252.4" stroke="#222" stroke-width="0.9"/>
<line x1="480.0" y1="249.6" x2="480.0" y2="252.4" stroke="#222" stroke-width="0.9"/>
<line x1="482.2" y1="249.6" x2="482.2" y2="252.4" stroke="#222" stroke-width="0.9"/>
<line x1="484.4" y1="249.6" x2="484.4" y2="252.4" stroke="#222" stroke-width="0.9"/>
<line x1="486.59999999999997" y1="249.6" x2="486.59999999999997" y2="252.4" stroke="#222" stroke-width="0.9"/>
<line x1="488.8" y1="249.6" x2="488.8" y2="252.4" stroke="#222" stroke-width="0.9"/>
<line x1="491.0" y1="249.6" x2="491.0" y2="252.4" stroke="#222" stroke-width="0.9"/>
<line x1="493.2" y1="249.6" x2="493.2" y2="252.4" stroke="#222" stroke-width="0.9"/>
<line x1="495.4" y1="249.6" x2="495.4" y2="252.4" stroke="#222" stroke-width="0.9"/>
<line x1="497.59999999999997" y1="249.6" x2="497.59999999999997" y2="252.4" stroke="#222" stroke-width="0.9"/>
<line x1="499.8" y1="249.6" x2="499.8" y2="252.4" stroke="#222" stroke-width="0.9"/>
<line x1="502.0" y1="249.6" x2="502.0" y2="252.4" stroke="#222" stroke-width="0.9"/>
<line x1="504.2" y1="249.6" x2="504.2" y2="252.4" stroke="#222" stroke-width="0.9"/>
<line x1="506.4" y1="249.6" x2="506.4" y2="252.4" stroke="#222" stroke-width="0.9"/>
<line x1="278" y1="258.8" x2="508" y2="258.8" stroke="#222" stroke-width="1.1"/>
<path d="M507,256.6 L512.6,258.8 L507,261 Z" fill="#111"/>
<text x="493.8" y="274" font-size="10" text-anchor="start" fill="#333333" font-weight="normal" textLength="18.6" lengthAdjust="spacingAndGlyphs" >BCL-2</text>
<text x="6.9" y="314.6" font-size="12.6" text-anchor="start" fill="#111" font-weight="bold" textLength="7.8" lengthAdjust="spacingAndGlyphs" >E</text>
<text x="70.6" y="329" font-size="9.3" text-anchor="start" fill="#333333" font-weight="normal" textLength="28.5" lengthAdjust="spacingAndGlyphs" >B cells</text>
<line x1="50.2" y1="334.3" x2="50.2" y2="436.8" stroke="#222" stroke-width="1.3"/>
<line x1="47.5" y1="436.8" x2="118" y2="436.8" stroke="#222" stroke-width="1.3"/>
<line x1="47.2" y1="436.80" x2="50.2" y2="436.80" stroke="#222" stroke-width="1.1"/>
<text x="44.7" y="439.8" font-size="8.4" text-anchor="end" fill="#333333" font-weight="normal" >0</text>
<line x1="47.2" y1="416.90" x2="50.2" y2="416.90" stroke="#222" stroke-width="1.1"/>
<text x="44.7" y="419.90000000000003" font-size="8.4" text-anchor="end" fill="#333333" font-weight="normal" >2</text>
<line x1="47.2" y1="397.00" x2="50.2" y2="397.00" stroke="#222" stroke-width="1.1"/>
<text x="44.7" y="400.0" font-size="8.4" text-anchor="end" fill="#333333" font-weight="normal" >4</text>
<line x1="47.2" y1="377.10" x2="50.2" y2="377.10" stroke="#222" stroke-width="1.1"/>
<text x="44.7" y="380.1" font-size="8.4" text-anchor="end" fill="#333333" font-weight="normal" >6</text>
<line x1="47.2" y1="357.20" x2="50.2" y2="357.20" stroke="#222" stroke-width="1.1"/>
<text x="44.7" y="360.20000000000005" font-size="8.4" text-anchor="end" fill="#333333" font-weight="normal" >8</text>
<line x1="47.2" y1="337.30" x2="50.2" y2="337.30" stroke="#222" stroke-width="1.1"/>
<text x="44.7" y="340.3" font-size="8.4" text-anchor="end" fill="#333333" font-weight="normal" >10</text>
<line x1="67.8" y1="436.8" x2="67.8" y2="439.8" stroke="#222" stroke-width="1.1"/>
<line x1="101.7" y1="436.8" x2="101.7" y2="439.8" stroke="#222" stroke-width="1.1"/>
<line x1="67.8" y1="401.78" x2="101.7" y2="392.52" stroke="#ad1539" stroke-width="1.1"/>
<line x1="67.8" y1="403.47" x2="101.7" y2="387.45" stroke="#2f973a" stroke-width="1.1"/>
<line x1="67.8" y1="388.44" x2="101.7" y2="359.19" stroke="#8d8bbf" stroke-width="1.1"/>
<line x1="67.8" y1="395.71" x2="101.7" y2="352.23" stroke="#f09526" stroke-width="1.1"/>
<circle cx="67.8" cy="401.776" r="2.35" fill="#ad1539"/>
<circle cx="101.7" cy="392.52250000000004" r="2.35" fill="#ad1539"/>
<path d="M67.80,400.97 L70.17,403.47 L67.80,405.97 L65.42,403.47 Z" fill="#2f973a"/>
<path d="M101.70,384.95 L104.08,387.45 L101.70,389.95 L99.33,387.45 Z" fill="#2f973a"/>
<path d="M67.80,386.04 L70.08,390.12 L65.52,390.12 Z" fill="#8d8bbf"/>
<path d="M101.70,356.79 L103.98,360.87 L99.42,360.87 Z" fill="#8d8bbf"/>
<rect x="65.60" y="393.51" width="4.40" height="4.40" fill="#f09526"/>
<rect x="99.50" y="350.03" width="4.40" height="4.40" fill="#f09526"/>
<line x1="68" y1="340.6" x2="98.6" y2="340.6" stroke="#333" stroke-width="1.3"/>
<circle cx="83.30" cy="336.50" r="1.15" fill="#222"/>
<g transform="translate(30.3,385) rotate(-90)">
<text x="0" y="0" font-size="9.2" text-anchor="middle" fill="#333333" textLength="58" lengthAdjust="spacingAndGlyphs">BCL-2 MFI (10<tspan dy="-3.6" font-size="7">−4</tspan><tspan dy="3.6">)</tspan></text>
</g>
<g transform="translate(70.5,446.4) rotate(-45)">
<text x="0" y="0" font-size="8.8" text-anchor="end" fill="#333333" font-weight="normal" textLength="13.5" lengthAdjust="spacingAndGlyphs" >Scr</text>
</g>
<g transform="translate(104.8,447.4) rotate(-45)">
<text x="0" y="0" font-size="8.8" text-anchor="end" fill="#333333" font-weight="normal" textLength="32" lengthAdjust="spacingAndGlyphs" >Post Ven</text>
</g>
<text x="134.8" y="314.4" font-size="12.6" text-anchor="start" fill="#111" font-weight="bold" >F</text>
<text x="358" y="313" font-size="9.3" text-anchor="start" fill="#333333" font-weight="normal" textLength="101.5" lengthAdjust="spacingAndGlyphs" >KEGG enrichment - UP</text>
<rect x="367.5" y="324.20" width="92.10" height="10.2" fill="#f7b815"/>
<line x1="355" y1="329.30" x2="358.5" y2="329.30" stroke="#222" stroke-width="1"/>
<text x="351.8" y="332.3" font-size="8.4" text-anchor="end" fill="#333333" font-weight="normal" textLength="130.7" lengthAdjust="spacingAndGlyphs" >Toll-like receptor signaling pathway</text>
<rect x="389.7" y="337.92" width="69.90" height="10.2" fill="#f7b815"/>
<line x1="355" y1="343.02" x2="358.5" y2="343.02" stroke="#222" stroke-width="1"/>
<text x="351.8" y="346.02000000000004" font-size="8.4" text-anchor="end" fill="#333333" font-weight="normal" textLength="206.9" lengthAdjust="spacingAndGlyphs" >Viral protein interaction with cytokine/cytokine receptor</text>
<rect x="390.7" y="351.64" width="68.90" height="10.2" fill="#f7b815"/>
<line x1="355" y1="356.74" x2="358.5" y2="356.74" stroke="#222" stroke-width="1"/>
<text x="351.8" y="359.74" font-size="8.4" text-anchor="end" fill="#f2a43a" font-weight="normal" textLength="112.3" lengthAdjust="spacingAndGlyphs" >NF-kappa B signaling pathway</text>
<rect x="397.8" y="365.36" width="61.80" height="10.2" fill="#f7b815"/>
<line x1="355" y1="370.46" x2="358.5" y2="370.46" stroke="#222" stroke-width="1"/>
<text x="351.8" y="373.46000000000004" font-size="8.4" text-anchor="end" fill="#333333" font-weight="normal" textLength="144.6" lengthAdjust="spacingAndGlyphs" >Natural killer cell mediated cytotoxicity</text>
<rect x="404" y="379.08" width="55.60" height="10.2" fill="#f7b815"/>
<line x1="355" y1="384.18" x2="358.5" y2="384.18" stroke="#222" stroke-width="1"/>
<text x="351.8" y="387.18" font-size="8.4" text-anchor="end" fill="#f2a43a" font-weight="normal" textLength="142.7" lengthAdjust="spacingAndGlyphs" >Cytokine-cytokine receptor interaction</text>
<rect x="408.2" y="392.80" width="51.40" height="10.2" fill="#f7b815"/>
<line x1="355" y1="397.90" x2="358.5" y2="397.90" stroke="#222" stroke-width="1"/>
<text x="351.8" y="400.90000000000003" font-size="8.4" text-anchor="end" fill="#333333" font-weight="normal" textLength="110.4" lengthAdjust="spacingAndGlyphs" >Chemokine signaling pathway</text>
<rect x="411.2" y="406.52" width="48.40" height="10.2" fill="#f7b815"/>
<line x1="355" y1="411.62" x2="358.5" y2="411.62" stroke="#222" stroke-width="1"/>
<text x="351.8" y="414.62" font-size="8.4" text-anchor="end" fill="#333333" font-weight="normal" textLength="91.0" lengthAdjust="spacingAndGlyphs" >Lipid and atherosclerosis</text>
<rect x="414.2" y="420.24" width="45.40" height="10.2" fill="#f7b815"/>
<line x1="355" y1="425.34" x2="358.5" y2="425.34" stroke="#222" stroke-width="1"/>
<text x="351.8" y="428.34000000000003" font-size="8.4" text-anchor="end" fill="#333333" font-weight="normal" textLength="84.1" lengthAdjust="spacingAndGlyphs" >TNF signaling pathway</text>
<rect x="418.3" y="433.96" width="41.30" height="10.2" fill="#f7b815"/>
<line x1="355" y1="439.06" x2="358.5" y2="439.06" stroke="#222" stroke-width="1"/>
<text x="351.8" y="442.06" font-size="8.4" text-anchor="end" fill="#333333" font-weight="normal" textLength="37.3" lengthAdjust="spacingAndGlyphs" >Apoptosis</text>
<rect x="425.2" y="447.68" width="34.40" height="10.2" fill="#f7b815"/>
<line x1="355" y1="452.78" x2="358.5" y2="452.78" stroke="#222" stroke-width="1"/>
<text x="351.8" y="455.78000000000003" font-size="8.4" text-anchor="end" fill="#333333" font-weight="normal" textLength="141.1" lengthAdjust="spacingAndGlyphs" >Transcriptional misregulation in cancer</text>
<rect x="358.5" y="318" width="101.6" height="147.3" fill="none" stroke="#222" stroke-width="1.2"/>
<line x1="358.50" y1="465.3" x2="358.50" y2="468" stroke="#222" stroke-width="1"/>
<text x="358.5" y="477.8" font-size="8.8" text-anchor="middle" fill="#333333" font-weight="normal" >−6</text>
<line x1="392.20" y1="465.3" x2="392.20" y2="468" stroke="#222" stroke-width="1"/>
<text x="392.2" y="477.8" font-size="8.8" text-anchor="middle" fill="#333333" font-weight="normal" >−4</text>
<line x1="425.90" y1="465.3" x2="425.90" y2="468" stroke="#222" stroke-width="1"/>
<text x="425.9" y="477.8" font-size="8.8" text-anchor="middle" fill="#333333" font-weight="normal" >−2</text>
<line x1="459.60" y1="465.3" x2="459.60" y2="468" stroke="#222" stroke-width="1"/>
<text x="459.6" y="477.8" font-size="8.8" text-anchor="middle" fill="#333333" font-weight="normal" >0</text>
<text x="400.6" y="491.6" font-size="10.4" text-anchor="start" fill="#333333" font-weight="normal" textLength="17.6" lengthAdjust="spacingAndGlyphs" >LogP</text>
<rect x="0.5" y="0.5" width="519" height="500" fill="none" stroke="#5a5a5a" stroke-width="1.1"/>
</svg></body></html>
